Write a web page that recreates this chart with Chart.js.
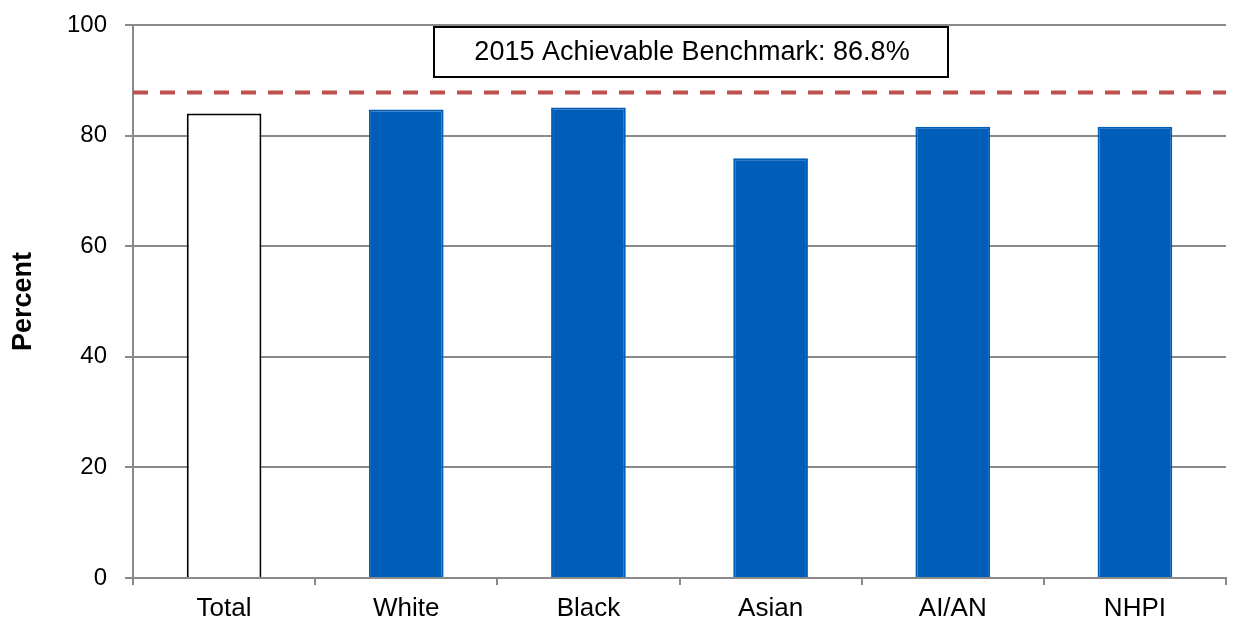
<!DOCTYPE html>
<html>
<head>
<meta charset="utf-8">
<script src="https://cdn.jsdelivr.net/npm/chart.js@4"></script>
<style>
    html, body { margin: 0; padding: 0; background: #fff; }
    #wrap { width: 1239px; height: 620px; position: relative; }
</style>
</head>
<body>
<div id="wrap"><canvas id="chart"></canvas></div>
<script>
// Data
const categories = ['Total', 'White', 'Black', 'Asian', 'AI/AN', 'NHPI'];
const percents = [84.0, 84.7, 85.1, 75.9, 81.6, 81.6];
const yTicks = [0, 20, 40, 60, 80, 100];
const benchmarkLine = 87.8;
const benchmarkLabel = '2015 Achievable Benchmark: 86.8%';

const fillColors = ['#ffffff', '#005EB8', '#005EB8', '#005EB8', '#005EB8', '#005EB8'];
const borderColors = ['#000000', '#005EB8', '#005EB8', '#005EB8', '#005EB8', '#005EB8'];

const FONT = '"Liberation Sans", Arial, sans-serif';

// benchmark dashed line + label box
const benchmarkPlugin = {
    id: 'benchmark',
    afterDatasetsDraw(chart) {
        const ctx = chart.ctx;
        const area = chart.chartArea;
        const y = chart.scales.y.getPixelForValue(benchmarkLine);
        ctx.save();
        ctx.strokeStyle = '#C0504D';
        ctx.lineWidth = 4;
        ctx.setLineDash([15, 12]);
        ctx.beginPath();
        ctx.moveTo(area.left, y);
        ctx.lineTo(area.right, y);
        ctx.stroke();
        ctx.setLineDash([]);

        // label box
        ctx.fillStyle = '#ffffff';
        ctx.fillRect(434, 27, 514, 50);
        ctx.strokeStyle = '#000000';
        ctx.lineWidth = 2;
        ctx.strokeRect(434, 27, 514, 50);
        ctx.fillStyle = '#000000';
        ctx.font = '27px ' + FONT;
        ctx.textAlign = 'center';
        ctx.textBaseline = 'middle';
        ctx.fillText(benchmarkLabel, 692, 53);
        ctx.restore();
    }
};

new Chart(document.getElementById('chart'), {
    type: 'bar',
    data: {
        labels: categories,
        datasets: [{
            data: percents,
            backgroundColor: fillColors,
            borderColor: borderColors,
            borderWidth: 2,
            categoryPercentage: 1,
            barPercentage: 0.41
        }]
    },
    options: {
        responsive: true,
        maintainAspectRatio: false,
        animation: false,
        layout: {
            padding: { top: 25, right: 13, left: 0, bottom: 0 }
        },
        plugins: {
            legend: { display: false },
            tooltip: { enabled: false }
        },
        scales: {
            x: {
                offset: true,
                afterFit: function(scale) {
                    scale.height = 42;
                    scale.paddingLeft = 0;
                    scale.paddingRight = 0;
                },
                grid: {
                    offset: true,
                    drawOnChartArea: false,
                    drawTicks: true,
                    tickLength: 7,
                    color: '#8a8a8a',
                    lineWidth: 2
                },
                border: { color: '#8a8a8a', width: 2 },
                ticks: {
                    color: '#000',
                    padding: 8,
                    font: { family: FONT, size: 26 }
                }
            },
            y: {
                min: 0,
                max: 100,
                afterFit: function(scale) {
                    scale.width = 133;
                    scale.paddingTop = 0;
                    scale.paddingBottom = 0;
                },
                afterBuildTicks: function(scale) {
                    scale.ticks = yTicks.map(v => ({ value: v }));
                },
                grid: {
                    color: '#8a8a8a',
                    lineWidth: 2,
                    tickLength: 8
                },
                border: { color: '#8a8a8a', width: 2 },
                ticks: {
                    color: '#000',
                    padding: 18,
                    font: { family: FONT, size: 24 }
                },
                title: {
                    display: true,
                    text: 'Percent',
                    color: '#000',
                    padding: { top: 7, bottom: 0 },
                    font: { family: FONT, size: 27, weight: 'bold' }
                }
            }
        }
    },
    plugins: [benchmarkPlugin]
});
</script>
</body>
</html>
